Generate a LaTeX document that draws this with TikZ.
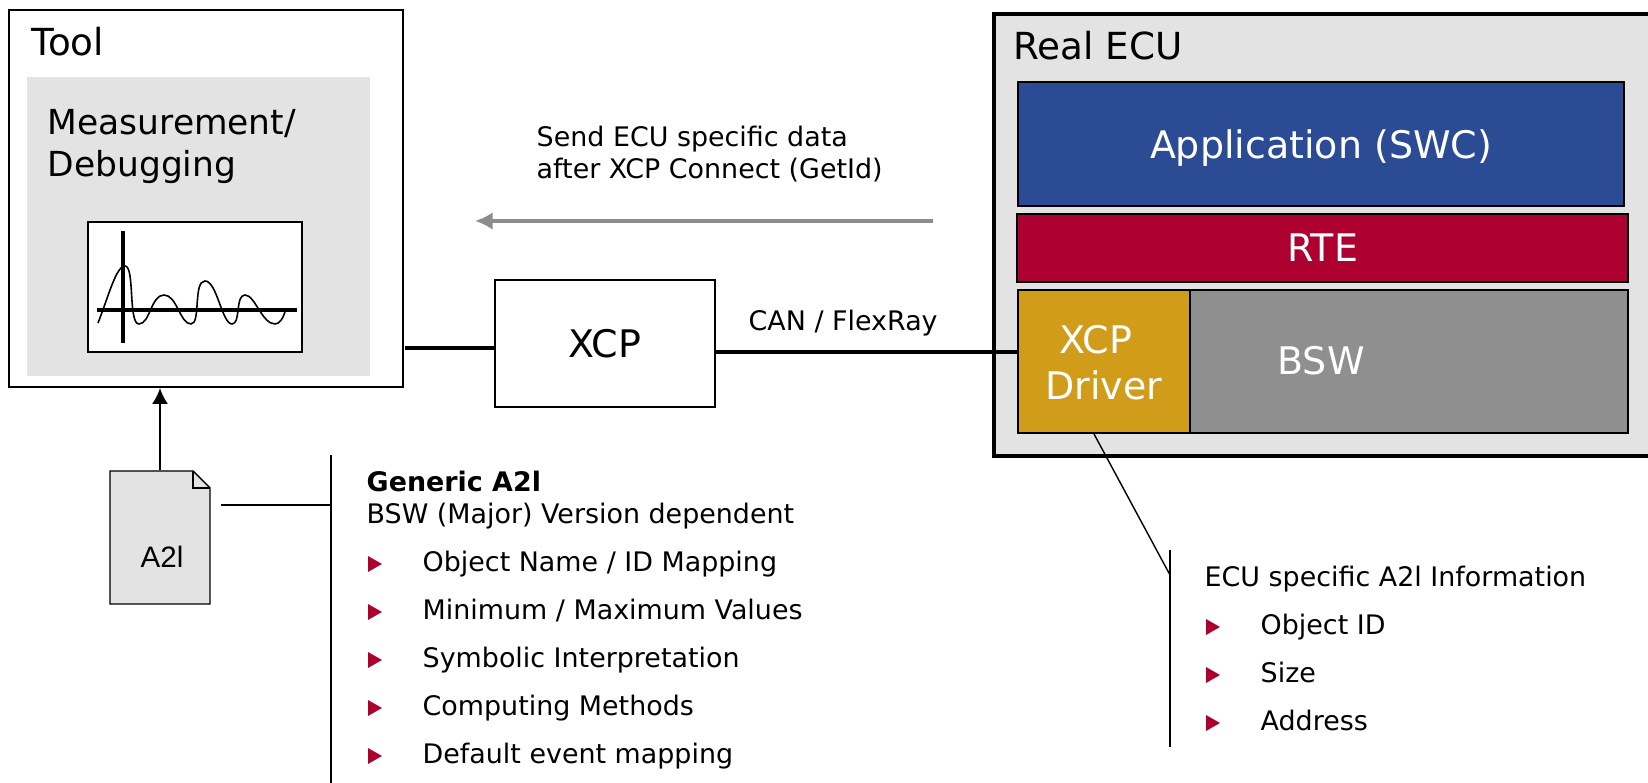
\documentclass[tikz,border=0pt]{standalone}
\usepackage{fontspec}
\usetikzlibrary{arrows.meta}
\setmainfont{DejaVu Sans}
\newfontfamily\arialfont{Liberation Sans}
\definecolor{panelgray}{HTML}{E3E3E3}
\definecolor{appblue}{HTML}{2B4B94}
\definecolor{rtered}{HTML}{AD0030}
\definecolor{drivergold}{HTML}{D19C1A}
\definecolor{bswgray}{HTML}{8F8F8F}
\definecolor{wiregray}{HTML}{8C8C8C}
\tikzset{
  layerbox/.style={draw=black,line width=0.5pt,minimum width=#1,anchor=north west,inner sep=0pt},
  bigtext/.style={font=\fontsize{10.6}{10.6}\selectfont,anchor=base west,inner sep=0pt},
  midtext/.style={font=\fontsize{9.8}{9.8}\selectfont,anchor=base west,inner sep=0pt},
  layertext/.style={font=\fontsize{10.8}{10.8}\selectfont,text=white,inner sep=0pt},
  smalltext/.style={font=\fontsize{7.65}{7.65}\selectfont,anchor=base west,inner sep=0pt},
  wire/.style={line width=0.6pt},
  buslink/.style={line width=0.9pt},
  bulletmark/.style={fill=rtered,draw=none}
}
\newcommand{\listbullet}[2]{\fill[bulletmark] (#1,#2-8) -- (#1+14,#2) -- (#1,#2+8) -- cycle;}
\begin{document}
\begin{tikzpicture}[x=0.01cm,y=-0.01cm]
        \useasboundingbox (0,0) rectangle (1648,783);

        % left side
        \node[layerbox=3.94cm,minimum height=3.77cm,fill=white] (tool) at (8,9) {};
        \node[anchor=north west,inner sep=0pt,minimum width=3.43cm,minimum height=2.99cm,fill=panelgray] (measure) at (26,76) {};
        \node[layerbox=2.14cm,minimum height=1.30cm,fill=white] (chart) at (87,221) {};
        \node[bigtext] (toolname) at (31,56) {Tool};
        \node[midtext] (measurename) at (47,135) {Measurement/};
        \node[midtext] (debugname) at (47,177) {Debugging};

        \draw[line width=0.45pt] (98,323) .. controls (108,298) and (116,266) .. (125,266)
            .. controls (135,266) and (128,324) .. (139,324)
            .. controls (150,324) and (151,295) .. (164,295)
            .. controls (177,295) and (180,324) .. (191,324)
            .. controls (201,324) and (193,281) .. (205,281)
            .. controls (217,281) and (222,324) .. (232,324)
            .. controls (241,324) and (235,295) .. (245,295)
            .. controls (255,295) and (262,324) .. (275,324)
            .. controls (280,324) and (283,318) .. (285,312);
        \draw[line width=1pt] (123,231) -- (123,343);
        \draw[line width=1pt] (97,310) -- (297,310);

        % file
        \filldraw[fill=panelgray,line width=0.4pt] (110,471) -- (193,471) -- (210,488) -- (210,604) -- (110,604) -- cycle;
        \draw[line width=0.4pt] (193,471) -- (193,488) -- (210,488);
        \node[inner sep=0pt,minimum width=1cm,minimum height=1.33cm] (file) at (160,537.5) {};
        \node[font=\arialfont\fontsize{8.4}{8.4}\selectfont,inner sep=0pt] (filename) at (162,557) {A2l};
        \draw[wire,-{Latex[length=4.5pt,width=4.5pt]}] (file.north) -- (file.north |- tool.south);

        % generic a2l list
        \coordinate (filerule) at (221,505);
        \coordinate (generictop) at (331,455);
        \coordinate (genericend) at (331,783);
        \draw[wire] (filerule) -- (filerule -| generictop);
        \draw[wire] (generictop) -- (genericend);
        \node[smalltext,font=\fontsize{7.65}{7.65}\selectfont\bfseries] (generic) at (366,492) {Generic A2l};
        \node[smalltext] (depend) at (366,524) {BSW (Major) Version dependent};
        \foreach \y/\name in {572/{Object Name / ID Mapping},620/{Minimum / Maximum Values},668/Symbolic Interpretation,716/Computing Methods,764/Default event mapping}{
            \listbullet{368}{\y-8}
            \node[smalltext] at (422,\y) {\name};
        }

        % real ecu
        \node[layerbox=6.70cm,minimum height=4.42cm,fill=panelgray,line width=1pt] (ecu) at (992,12) {};
        \node[bigtext] (ecuname) at (1013,60) {Real ECU};
        \node[layerbox=6.06cm,minimum height=1.24cm,fill=appblue] (app) at (1017,81) {};
        \node[layertext] at ([yshift=-0.04cm]app.center) {Application (SWC)};
        \node[layerbox=6.11cm,minimum height=0.68cm,fill=rtered] (rte) at (1016,213) {};
        \node[layertext] at (rte) {RTE};
        \node[layerbox=6.10cm,minimum height=1.43cm,fill=bswgray] (bsw) at (1017,289) {};
        \node[layerbox=1.72cm,minimum height=1.43cm,fill=drivergold] (driver) at (1017,289) {};
        \node[layertext] at (1096,340) {XCP};
        \node[layertext] at (1104,385) {Driver};
        \node[layertext] at (1321,361) {BSW};

        % xcp
        \node[layerbox=2.20cm,minimum height=1.27cm,fill=white] (xcp) at (494,279) {};
        \node[layertext,text=black] at (xcp) {XCP};
        \coordinate (toolport) at (405,348);
        \coordinate (driverport) at (1017,352);
        \draw[buslink] (toolport) -- (toolport -| xcp.west);
        \draw[buslink] (driverport -| xcp.east) -- (driverport);
        \node[smalltext] (busname) at (748,331) {CAN / FlexRay};

        % send arrow
        \coordinate (sendstart) at (933,221);
        \coordinate (sendend) at (475,221);
        \draw[wiregray,line width=0.9pt,-{Latex[length=5pt,width=5pt]}] (sendstart) -- (sendend);
        \node[smalltext] (send) at (536,147) {Send ECU specific data};
        \node[smalltext] (connect) at (536,179) {after XCP Connect (GetId)};

        % ecu specific list
        \coordinate (speciftop) at (1170,550);
        \coordinate (specifend) at (1170,747);
        \coordinate (specifjoin) at (1170,575);
        \draw[wire] (speciftop) -- (specifend);
        \draw[line width=0.4pt] (1094,434) -- (specifjoin);
        \node[smalltext] (specific) at (1204,587) {ECU specific A2l Information};
        \foreach \y/\name in {635/Object ID,683/Size,731/Address}{
            \listbullet{1206}{\y-8}
            \node[smalltext] at (1260,\y) {\name};
        }
    \end{tikzpicture}
\end{document}
